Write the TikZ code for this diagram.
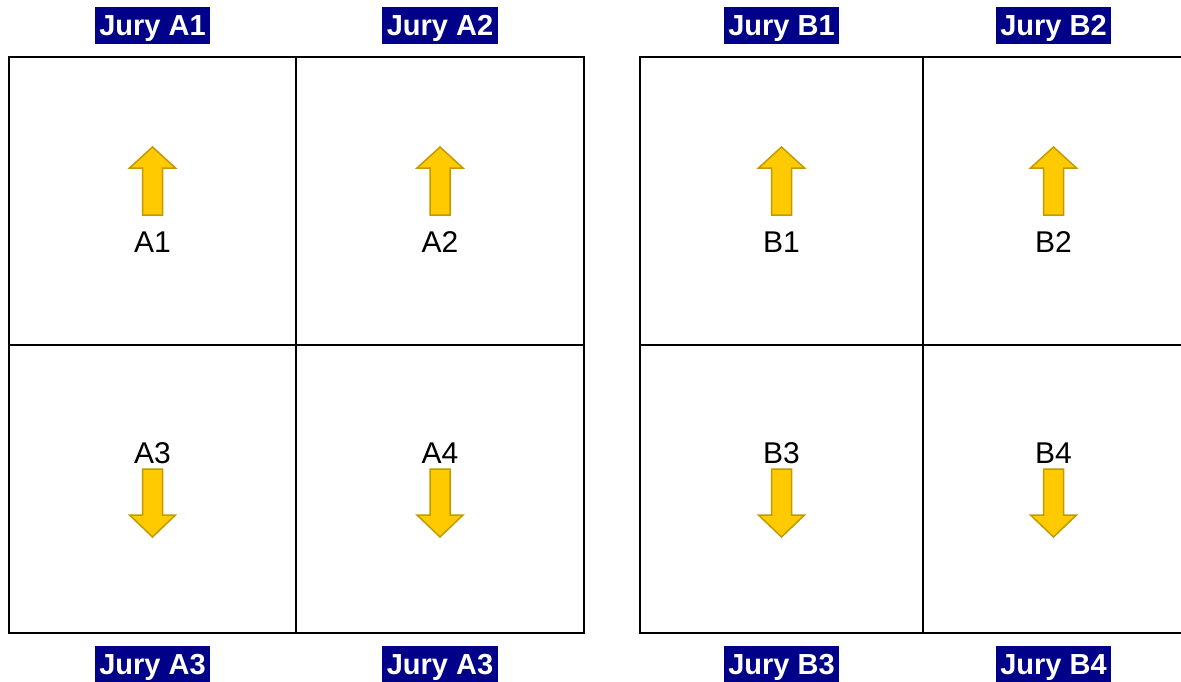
\documentclass[tikz,border=0pt]{standalone}
\usepackage{fontspec}
\setmainfont{Liberation Sans}
\usetikzlibrary{positioning}

\definecolor{jurynavy}{HTML}{000088}
\definecolor{arrowfill}{HTML}{FFCA00}
\definecolor{arrowline}{HTML}{C29A00}

\tikzset{
	cell/.style={draw, line width=1.6pt, minimum height=288pt, inner sep=0pt},
	jury/.style={fill=jurynavy, text=white, font=\bfseries\fontsize{29}{34}\selectfont,
		inner xsep=4.5pt, inner ysep=2.3pt, text height=26.2pt, text depth=6.1pt},
	celltext/.style={font=\fontsize{30}{34}\selectfont, inner sep=0pt, anchor=base},
	arrowbox/.style={fill=arrowfill, draw=arrowline, line width=1.5pt, line join=miter},
	uparrow/.pic={\draw[arrowbox] (-10,34) -- (-10,-13) -- (-23,-13) -- (0,-34)
		-- (23,-13) -- (10,-13) -- (10,34) -- cycle;},
	downarrow/.pic={\draw[arrowbox] (-10,-34) -- (-10,12) -- (-23,12) -- (0,34)
		-- (23,12) -- (10,12) -- (10,-34) -- cycle;}
}

\begin{document}
\begin{tikzpicture}[x=1pt, y=-1pt, node distance=12pt]
		\useasboundingbox (0,0) rectangle (1181,681);
		
		% left block
		\node[cell, minimum width=287.5pt] (cellA1) at (152.5,201) {};
		\node[cell, minimum width=287.5pt] (cellA2) at (440,201) {};
		\node[cell, minimum width=287.5pt] (cellA3) at (152.5,489) {};
		\node[cell, minimum width=287.5pt] (cellA4) at (440,489) {};
		
		% right block
		\node[cell, minimum width=283pt] (cellB1) at (781.5,201) {};
		\node[cell, minimum width=261pt] (cellB2) at (1053.5,201) {};
		\node[cell, minimum width=283pt] (cellB3) at (781.5,489) {};
		\node[cell, minimum width=261pt] (cellB4) at (1053.5,489) {};
		
		% jury labels
		\node[jury, above = of cellA1] (juryA1) {Jury A1};
		\node[jury, above = of cellA2] (juryA2) {Jury A2};
		\node[jury, above = of cellB1] (juryB1) {Jury B1};
		\node[jury, above = of cellB2] (juryB2) {Jury B2};
		\node[jury, below = of cellA3] (juryA3) {Jury A3};
		\node[jury, below = of cellA4] (juryA4) {Jury A3};
		\node[jury, below = of cellB3] (juryB3) {Jury B3};
		\node[jury, below = of cellB4] (juryB4) {Jury B4};
		
		% cell texts
		\node[celltext] (txtA1) at ([yshift=-51pt]cellA1.center) {A1};
		\node[celltext] (txtA2) at ([yshift=-51pt]cellA2.center) {A2};
		\node[celltext] (txtB1) at ([yshift=-51pt]cellB1.center) {B1};
		\node[celltext] (txtB2) at ([yshift=-51pt]cellB2.center) {B2};
		\node[celltext] (txtA3) at ([yshift=26pt]cellA3.center) {A3};
		\node[celltext] (txtA4) at ([yshift=26pt]cellA4.center) {A4};
		\node[celltext] (txtB3) at ([yshift=26pt]cellB3.center) {B3};
		\node[celltext] (txtB4) at ([yshift=26pt]cellB4.center) {B4};
		
		% arrows
		\pic at ([yshift=20pt]cellA1.center) {uparrow};
		\pic at ([yshift=20pt]cellA2.center) {uparrow};
		\pic at ([yshift=20pt]cellB1.center) {uparrow};
		\pic at ([yshift=20pt]cellB2.center) {uparrow};
		\pic at ([yshift=-14pt]cellA3.center) {downarrow};
		\pic at ([yshift=-14pt]cellA4.center) {downarrow};
		\pic at ([yshift=-14pt]cellB3.center) {downarrow};
		\pic at ([yshift=-14pt]cellB4.center) {downarrow};
		
		\end{tikzpicture}
\end{document}
